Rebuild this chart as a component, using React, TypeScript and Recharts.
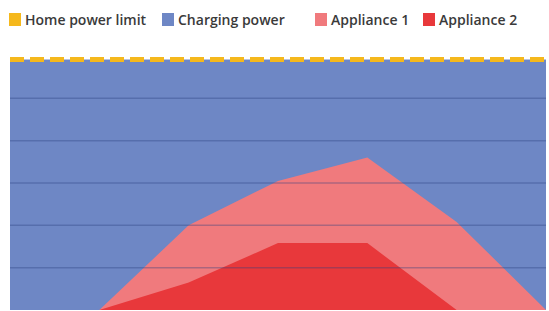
import { Area, ComposedChart, Line, ReferenceLine, XAxis, YAxis } from "recharts";

// time steps along the x axis
const steps = [0, 1, 2, 3, 4, 5, 6];
const homeLimit = [5.92, 5.92, 5.92, 5.92, 5.92, 5.92, 5.92];
const charging = [5.92, 5.92, 5.92, 5.92, 5.92, 5.92, 5.92];
const appliance1 = [0, 0, 2.0, 3.05, 3.6, 2.08, 0];
const appliance2 = [0, 0, 0.65, 1.58, 1.58, 0, 0];
const gridValues = [1, 2, 3, 4, 5];

const series = [
  { key: "limit", name: "Home power limit", color: "#f5b81c" },
  { key: "charging", name: "Charging power", color: "#6e87c5" },
  { key: "app1", name: "Appliance 1", color: "#f07a7d" },
  { key: "app2", name: "Appliance 2", color: "#e8383b" },
];

const data = steps.map((s, i) => ({
  step: s,
  limit: homeLimit[i],
  charging: charging[i],
  app1: appliance1[i],
  app2: appliance2[i],
}));

// legend item widths, tuned to the reference spacing
const itemWidths = [153, 153, 108, 120];

function ChartLegend() {
  return (
    <div
      style={{
        position: "absolute",
        top: 10,
        left: 9,
        display: "flex",
        alignItems: "center",
        fontFamily: "'Open Sans', sans-serif",
        fontSize: 14,
        color: "#3a3a3a",
        fontWeight: 600,
        whiteSpace: "nowrap",
      }}
    >
      {series.map((s, i) => (
        <div key={s.key} style={{ display: "flex", alignItems: "center", width: itemWidths[i] }}>
          <span style={{ width: 12, height: 13, background: s.color, display: "inline-block", marginRight: 4 }} />
          <span>{s.name}</span>
        </div>
      ))}
    </div>
  );
}

export default function App() {
  return (
    <div style={{ position: "absolute", left: 0, top: 0, width: 549, height: 311, background: "#fff" }}>
      <ChartLegend />
      <ComposedChart width={549} height={311} data={data} margin={{ top: 56, right: 3, bottom: 1, left: 10 }}>
        <XAxis dataKey="step" type="number" domain={[0, 6]} hide />
        <YAxis type="number" domain={[0, 6]} hide />
        <Area type="linear" dataKey="charging" name="Charging power" stroke="none" fill="#6e87c5" fillOpacity={1} isAnimationActive={false} />
        <Area type="linear" dataKey="app1" name="Appliance 1" stroke="none" fill="#f07a7d" fillOpacity={1} isAnimationActive={false} />
        <Area type="linear" dataKey="app2" name="Appliance 2" stroke="none" fill="#e8383b" fillOpacity={1} isAnimationActive={false} />
        {gridValues.map((v) => (
          <ReferenceLine key={v} y={v} stroke="#2b3f7e" strokeOpacity={0.35} strokeWidth={1.5} />
        ))}
        <Line type="linear" dataKey="limit" name="Home power limit" stroke="#f5b81c" strokeWidth={5} strokeDasharray="14 6" dot={false} isAnimationActive={false} />
      </ComposedChart>
    </div>
  );
}
